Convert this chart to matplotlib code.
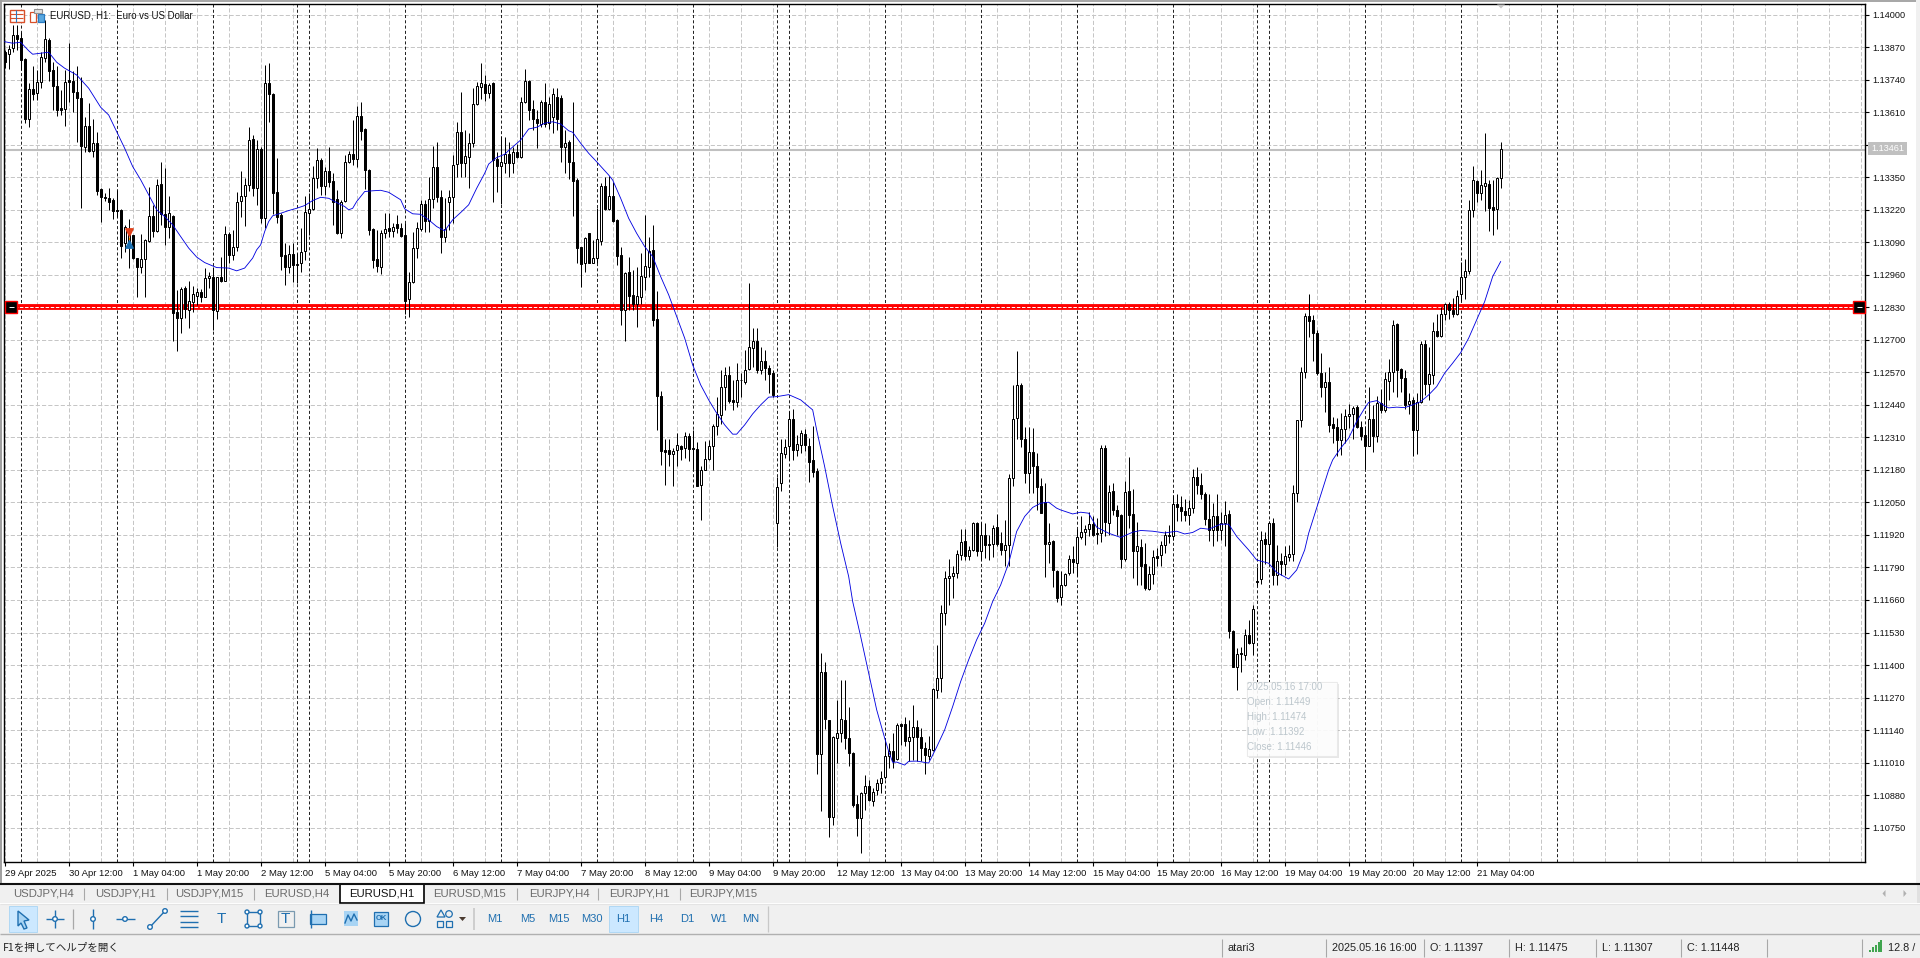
import numpy as np
import matplotlib
matplotlib.use('Agg')
import matplotlib.pyplot as plt
from matplotlib.patches import Rectangle, Circle, Polygon

plt.rcParams['font.family'] = ['Liberation Sans', 'DejaVu Sans']
plt.rcParams['lines.scale_dashes'] = False

# candles, in points (0.00001) above 1.13000
opens = [
850,843,868,919,906,822,585,702,686,729,826,899,779,715,626,622,739,735,691,667,473,555,457,486,304,
270,266,260,220,220,87,89,120,27,-7,23,97,196,137,324,202,150,196,-188,-213,-91,-180,-147,-124,-109,
-127,-53,-47,-183,-47,-63,123,40,73,257,277,320,503,306,463,186,726,682,290,200,40,-7,42,0,6,
57,209,224,346,419,316,375,335,262,129,257,410,443,422,595,543,379,144,22,-7,126,147,137,162,147,
120,-137,-67,66,144,242,176,262,390,270,113,253,270,403,533,406,433,489,642,712,723,686,726,422,397,
406,442,406,452,433,652,735,622,582,563,652,566,592,670,666,472,492,410,339,70,9,126,9,26,97,
315,223,275,179,39,-180,-30,-120,-158,-127,-47,-7,59,-216,-524,-741,-740,-757,-742,-725,-732,-684,-732,-737,-882,
-820,-777,-724,-644,-600,-487,-440,-540,-547,-462,-467,-417,-331,-304,-420,-384,-412,-433,-1034,-873,-756,-726,-617,-742,-720,
-677,-724,-780,-824,-1956,-1628,-1819,-2209,-1892,-1870,-1819,-1892,-1952,-2156,-2212,-2112,-2083,-2143,-2101,-2072,-2048,-1965,-1942,-1976,-1836,
-1836,-1902,-1888,-1846,-1886,-1932,-1962,-1939,-1699,-1652,-1393,-1253,-1246,-1233,-1160,-1104,-1164,-1142,-1032,-1146,-1080,-1116,-1116,-1049,-1113,
-1140,-1122,-853,-613,-480,-696,-831,-749,-804,-884,-949,-1117,-1106,-1224,-1329,-1279,-1233,-1176,-1193,-1089,-1070,-1057,-1037,-1073,-1073,
-733,-1033,-904,-980,-1000,-1176,-904,-996,-1146,-1129,-1197,-1296,-1237,-1166,-1162,-1120,-1080,-1086,-957,-969,-984,-1002,-973,-849,-881,
-916,-1017,-1060,-1006,-1062,-1033,-997,-1463,-1606,-1550,-1559,-1479,-1513,-1264,-1257,-1097,-1117,-1033,-1242,-1184,-1196,-1169,-1157,-911,-620,
-427,-204,-220,-274,-433,-489,-469,-636,-649,-702,-657,-606,-596,-569,-649,-680,-726,-617,-686,-553,-582,-463,-429,-236,-417,
-453,-556,-540,-662,-549,-316,-476,-440,-265,-284,-198,-158,-180,-196,-118,-50,-23,219,335,289,317,323,230,223,346]

closes = [
809,862,919,902,819,583,702,683,730,830,902,773,713,619,619,730,731,689,667,475,555,457,486,297,270,
268,253,217,217,77,150,140,27,-7,23,100,197,137,320,202,153,206,-191,-213,-97,-176,-144,-117,-109,-127,
-53,-45,-180,-49,-63,123,40,73,253,277,320,500,309,463,186,726,682,289,193,37,-7,42,0,4,53,
210,224,346,419,316,375,333,253,129,253,410,442,423,595,537,379,140,20,-4,126,142,137,153,147,117,
-143,-67,66,146,242,176,262,390,273,113,142,270,399,530,406,435,486,642,715,726,686,719,419,397,410,
442,406,452,433,652,735,619,582,566,652,563,643,682,582,470,486,410,335,66,2,106,9,26,102,315,
223,275,175,35,-180,-34,-123,-156,-124,-44,-4,57,-220,-523,-746,-748,-757,-745,-721,-735,-686,-737,-735,-884,-820,
-777,-724,-644,-596,-489,-440,-544,-547,-460,-460,-420,-327,-304,-420,-384,-413,-436,-520,-890,-753,-727,-617,-742,-716,-674,
-720,-787,-827,-1956,-1628,-1816,-2209,-1888,-1870,-1816,-1890,-1952,-2161,-2212,-2112,-2085,-2141,-2109,-2072,-2052,-1963,-1942,-1985,-1839,-1842,
-1902,-1888,-1846,-1888,-1932,-1959,-1936,-1696,-1652,-1393,-1253,-1244,-1233,-1157,-1109,-1164,-1142,-1033,-1146,-1080,-1122,-1122,-1053,-1116,-1140,
-1120,-853,-617,-480,-696,-833,-749,-804,-887,-993,-1117,-1109,-1222,-1333,-1282,-1237,-1176,-1190,-1089,-1069,-1057,-1037,-1080,-1078,-733,
-1030,-907,-980,-1004,-1176,-909,-1000,-1146,-1124,-1204,-1293,-1237,-1170,-1172,-1122,-1082,-1086,-957,-970,-984,-1002,-973,-849,-881,-917,
-1016,-1060,-1006,-1062,-1033,-1001,-1462,-1606,-1557,-1557,-1479,-1513,-1377,-1270,-1100,-1117,-1033,-1242,-1184,-1196,-1164,-1156,-913,-620,-430,
-204,-223,-274,-433,-487,-469,-642,-653,-702,-657,-606,-596,-573,-650,-684,-726,-617,-686,-553,-582,-457,-427,-240,-420,-453,
-560,-544,-660,-547,-316,-476,-437,-265,-284,-198,-158,-180,-196,-123,-50,-23,219,339,289,318,326,229,219,346,462]

highs = [
859,879,959,959,932,826,726,795,779,852,979,906,812,795,699,779,888,773,795,750,590,646,582,533,306,
289,306,266,300,222,160,182,120,27,123,103,313,240,342,410,389,276,198,-100,-87,-84,-64,-83,-93,-97,
-13,-27,-7,-47,31,156,133,140,290,377,346,550,519,500,470,799,806,685,426,206,86,80,86,46,146,
276,286,395,466,426,393,470,366,300,260,439,457,579,633,649,546,382,147,140,140,206,206,166,200,166,
166,-27,133,170,259,259,353,475,493,300,266,300,439,573,692,539,526,706,732,808,759,726,732,453,515,
513,493,472,483,671,782,738,659,620,660,726,672,706,706,680,539,499,652,346,73,113,129,99,226,326,
353,355,333,182,70,-27,33,-20,-7,46,199,113,159,-104,-503,-697,-697,-733,-673,-720,-670,-673,-660,-710,-806,
-706,-702,-636,-529,-420,-409,-404,-460,-391,-431,-340,-74,-254,-254,-327,-340,-400,-420,-847,-697,-695,-586,-577,-680,-660,
-657,-693,-644,-813,-1550,-1586,-1819,-1885,-1739,-1659,-1659,-1768,-1949,-2119,-2109,-2039,-2059,-2092,-2056,-2025,-1892,-1912,-1872,-1832,-1832,
-1808,-1819,-1759,-1819,-1852,-1906,-1883,-1692,-1519,-1359,-1224,-1176,-1204,-1142,-1056,-1056,-1126,-1030,-1030,-1030,-1033,-1080,-1040,-996,-1070,
-1020,-837,-480,-344,-474,-649,-649,-653,-753,-853,-873,-1033,-1100,-1222,-1226,-1233,-1160,-1124,-1057,-1006,-1040,-990,-1006,-1013,-720,
-720,-880,-873,-960,-996,-864,-767,-896,-1030,-1097,-1113,-1206,-1140,-1133,-1106,-1066,-1040,-920,-917,-926,-937,-940,-817,-809,-833,
-910,-917,-953,-916,-990,-946,-980,-1461,-1533,-1529,-1457,-1419,-1360,-1209,-1064,-1070,-1026,-1013,-1120,-1153,-1126,-1120,-880,-620,-410,
-194,-116,-200,-260,-353,-427,-407,-609,-613,-593,-577,-556,-564,-560,-626,-646,-487,-560,-524,-497,-427,-377,-220,-234,-413,
-420,-513,-527,-511,-303,-300,-327,-227,-198,-170,-151,-147,-134,-100,13,22,259,395,339,379,526,339,339,350,492]

lows = [
786,783,852,859,779,566,550,659,657,706,812,733,619,595,599,555,649,609,493,229,453,453,430,280,170,
257,220,184,190,27,53,-11,23,-127,-31,-129,93,113,133,160,80,107,-306,-346,-273,-213,-253,-190,-160,-147,
-129,-93,-262,-216,-67,-64,7,20,57,193,157,296,276,240,166,146,573,202,166,-20,-80,-33,-67,-71,-27,
20,120,220,306,280,280,313,160,125,106,253,406,399,393,499,302,120,-14,-27,-36,106,113,113,126,113,
-196,-207,-73,26,137,133,133,229,253,49,93,140,166,350,353,353,306,470,639,662,656,666,253,293,244,
366,353,366,426,426,646,579,539,468,552,552,545,526,539,412,366,342,195,6,-87,-27,6,6,9,79,
219,219,173,0,-240,-303,-180,-180,-250,-158,-100,-47,-244,-662,-802,-882,-806,-886,-806,-782,-773,-784,-817,-886,-1019,
-822,-780,-822,-682,-636,-580,-553,-580,-567,-527,-476,-420,-407,-433,-437,-460,-513,-527,-1127,-906,-773,-780,-782,-766,-753,
-743,-867,-847,-2036,-2185,-1856,-2289,-2239,-1992,-1906,-1936,-2005,-2169,-2285,-2352,-2179,-2145,-2165,-2119,-2112,-2056,-2012,-2012,-1979,-1919,
-1923,-1985,-1979,-1985,-1985,-2036,-1979,-1945,-1732,-1706,-1439,-1359,-1333,-1253,-1180,-1180,-1182,-1145,-1166,-1182,-1173,-1180,-1169,-1124,-1160,
-1204,-1206,-883,-696,-729,-871,-911,-913,-980,-993,-1250,-1193,-1289,-1350,-1362,-1286,-1240,-1233,-1246,-1097,-1120,-1086,-1086,-1116,-1110,
-1086,-1082,-1000,-1080,-1213,-1186,-1053,-1253,-1279,-1279,-1302,-1300,-1277,-1206,-1206,-1153,-1113,-1100,-1026,-1026,-1026,-1042,-993,-916,-937,
-1040,-1106,-1126,-1106,-1100,-1126,-1490,-1607,-1699,-1626,-1579,-1517,-1559,-1286,-1277,-1197,-1193,-1280,-1282,-1240,-1242,-1186,-1186,-950,-649,
-453,-289,-383,-440,-530,-587,-670,-713,-766,-760,-713,-653,-697,-653,-702,-817,-726,-749,-710,-593,-587,-540,-507,-530,-507,
-577,-596,-766,-756,-553,-520,-540,-477,-290,-290,-220,-216,-207,-200,-144,-136,-36,190,253,259,217,135,119,143,306]

# blue moving average, read at these bars
ma_bars = [0,2,4,6,7,9,11,13,15,18,21,24,26,28,30,32,34,36,38,40,42,44,46,48,50,53,56,58,60,62,63,64,65,66,67,69,71,73,75,77,79,81,83,85,86,87,88,90,92,94,96,98,99,100,102,104,106,108,110,112,114,116,118,120,121,123,125,126,129,131,133,135,137,139,141,142,144,146,148,151,152,154,156,158,160,162,164,166,168,170,172,174,176,178,180,182,183,185,187,189,191,193,196,199,202,203,205,207,209,211,212,214,216,218,220,221,222,223,225,226,228,231,233,235,237,239,241,243,245,247,249,251,253,255,257,259,261,263,264,267,269,271,273,276,279,282,284,287,290,293,295,297,299,301,304,306,308,311,313,316,318,321,323,325,326,331,332,334,336,338,340,341,343,345,346,348,350,352,354,356,358,360,362,364,366,368,370,372,374]
ma_vals = [892,886,890,856,842,846,850,810,786,759,706,630,599,533,466,393,340,280,220,193,160,113,67,31,9,-11,-13,-24,-13,27,60,80,133,173,196,206,217,226,237,257,270,266,249,233,220,226,253,293,296,298,290,270,260,224,204,202,180,153,136,180,209,240,306,366,403,429,442,457,499,543,550,566,572,563,536,530,486,446,412,359,339,266,186,126,73,33,-47,-120,-207,-293,-400,-480,-540,-593,-640,-677,-677,-640,-596,-560,-529,-527,-519,-540,-580,-660,-807,-966,-1113,-1246,-1346,-1486,-1632,-1779,-1892,-1945,-1989,-1988,-2000,-1985,-1984,-1992,-1928,-1859,-1766,-1666,-1579,-1499,-1433,-1346,-1280,-1193,-1066,-1006,-970,-953,-949,-973,-980,-996,-989,-993,-1049,-1073,-1090,-1069,-1062,-1065,-1072,-1065,-1076,-1070,-1053,-1057,-1037,-1037,-1086,-1140,-1180,-1193,-1230,-1256,-1220,-1140,-1073,-820,-780,-733,-693,-626,-573,-550,-543,-564,-572,-569,-571,-560,-547,-520,-487,-433,-393,-351,-293,-220,-147,-47,13]

sep_bars = [4,28,52,73,76,100,124,148,172,193,196,220,244,268,292,313,316,340,364,388]
grid_bars = list(range(0, 466, 8))
price_levels = [1.14000 - 0.0013 * k for k in range(26)]
label_bars = list(range(0, 369, 16))
x_labels = ['29 Apr 2025','30 Apr 12:00','1 May 04:00','1 May 20:00','2 May 12:00','5 May 04:00','5 May 20:00','6 May 12:00',
            '7 May 04:00','7 May 20:00','8 May 12:00','9 May 04:00','9 May 20:00','12 May 12:00','13 May 04:00','13 May 20:00',
            '14 May 12:00','15 May 04:00','15 May 20:00','16 May 12:00','19 May 04:00','19 May 20:00','20 May 12:00','21 May 04:00']
red_level = 1.12830
bid_level = 1.13461
trade_bar = 31
sell_price = 1.13132
buy_price = 1.13084

tab_names = ['USDJPY,H4','USDJPY,H1','USDJPY,M15','EURUSD,H4','EURUSD,H1','EURUSD,M15','EURJPY,H4','EURJPY,H1','EURJPY,M15']
timeframes = ['M1','M5','M15','M30','H1','H4','D1','W1','MN']
tooltip_lines = ['2025.05.16 17:00','Open: 1.11449','High: 1.11474','Low: 1.11392','Close: 1.11446']
status_texts = ['atari3','2025.05.16 16:00','O: 1.11397','H: 1.11475','L: 1.11307','C: 1.11448','12.8 /']

W, H = 1920, 958
fig = plt.figure(figsize=(W / 100, H / 100), dpi=100, facecolor='white')

# price chart
left, right, top, bottom = 4, 1865, 4, 862
ax = fig.add_axes([left / W, 1 - bottom / H, (right - left) / W, (bottom - top) / H])
o = 1.13 + np.array(opens) / 1e5
c = 1.13 + np.array(closes) / 1e5
hi = 1.13 + np.array(highs) / 1e5
lo = 1.13 + np.array(lows) / 1e5
x = np.arange(len(o))
ma = 1.13 + np.array(ma_vals) / 1e5

for g in grid_bars:
	ax.axvline(g, color='#c6c6c6', lw=0.72, ls=(0, (3, 1.5)), zorder=1)
for p in price_levels:
	ax.axhline(p, color='#c6c6c6', lw=0.72, ls=(0, (3, 1.5)), zorder=1)
for s in sep_bars:
	ax.axvline(s, color='black', lw=0.62, ls=(0, (2.2, 1.6)), zorder=1.5)

ax.axhline(bid_level, color='#c0c0c0', lw=1.5, zorder=2)
ax.axhline(red_level, color='#ff0000', lw=4.2, zorder=2)
ax.axhline(red_level, color='white', lw=0.7, ls=(0, (2.5, 1.2)), zorder=2.1)

ax.vlines(x, lo, hi, color='black', lw=0.72, zorder=3)
up = c >= o
ax.bar(x[up], (c - o)[up], bottom=o[up], width=0.56, facecolor='white', edgecolor='black', lw=0.72, zorder=4)
ax.bar(x[~up], (o - c)[~up], bottom=c[~up], width=0.56, facecolor='black', edgecolor='black', lw=0.72, zorder=4)
ax.plot(ma_bars, ma, color='#0000e0', lw=0.62, zorder=5)

ax.plot([trade_bar, trade_bar], [sell_price, buy_price], color='#e08000', lw=0.8, ls=(0, (2, 1.5)), zorder=6)
ax.scatter([trade_bar], [sell_price], marker='v', s=28, color='#e0401a', zorder=7)
ax.scatter([trade_bar], [buy_price], marker='^', s=28, color='#1a6fb0', zorder=7)

ax.set_xlim((left - 4.67) / 4, (right - 4.67) / 4)
ax.set_ylim(1.14 - (bottom - 14.7) * 3.998e-5, 1.14 - (top - 14.7) * 3.998e-5)
ax.yaxis.tick_right()
ax.set_yticks(price_levels)
ax.set_yticklabels(['%.5f' % p for p in price_levels], fontsize=6.6, color='#111111')
ax.set_xticks(label_bars)
ax.set_xticklabels(x_labels, fontsize=6.8, ha='left', color='#111111')
ax.tick_params(axis='both', length=3, width=0.8, color='black', pad=2)
for sp in ax.spines.values():
	sp.set_linewidth(1.0)
	sp.set_color('black')

# window chrome, in pixel coordinates
ch = fig.add_axes([0, 0, 1, 1], zorder=10)
ch.set_xlim(0, W)
ch.set_ylim(H, 0)
ch.axis('off')

def box(x0, y0, w, h, fc, ec='none', lw=0, alpha=None, z=1):
	ch.add_patch(Rectangle((x0, y0), w, h, facecolor=fc, edgecolor=ec, lw=lw, alpha=alpha, zorder=z))

def line(xs, ys, col='#1f6fb0', lw=1.0, z=3):
	ch.plot(xs, ys, color=col, lw=lw, zorder=z, solid_capstyle='butt')

box(0, 0, W, 1.5, '#a8a8a8')
box(0, 0, 2, 884, '#a0a0a0')
box(1916, 0, 4, 884, '#f0f0f0')

# title and icons
ch.text(50, 15.5, 'EURUSD, H1:  Euro vs US Dollar', fontsize=6.9, va='center', color='#111111', zorder=4)
box(9.5, 10, 14, 12, 'white', '#d8502a', 1.0, z=4)
line([10, 23], [14, 14], '#d8502a', 0.8, 5)
line([10, 23], [18, 18], '#d8502a', 0.8, 5)
line([15.5, 15.5], [10, 22], '#2a7ac0', 0.8, 5)
box(30, 12, 6, 10, 'white', '#d8502a', 0.9, z=4)
box(38, 14, 6, 8, '#5aa8e0', '#2a7ac0', 0.9, z=4)
box(34, 9, 8, 4, '#e0e0e0', '#909090', 0.8, z=4)

# red line anchors
for ax0 in (5, 1853):
	box(ax0, 301, 12, 12, 'black', '#ff0000', 1.0, z=4)
	line([ax0 + 3.5, ax0 + 8.5], [307, 307], 'white', 0.7, 5)

# bid label
box(1868, 142, 39, 13, '#c0c0c0', z=4)
ch.text(1871, 148.8, '1.13461', fontsize=6.6, va='center', color='white', zorder=5)
ch.add_patch(Polygon([[1497, 4.5], [1505, 4.5], [1501, 8.5]], facecolor='#c8c8c8', edgecolor='none', zorder=4))

# faded tooltip
box(1249, 684, 90, 74, '#b0b0b0', alpha=0.3, z=4)
box(1247, 682, 90, 74, '#ffffff', '#e8e8e8', 0.8, alpha=0.88, z=4.2)
for k, t in enumerate(tooltip_lines):
	ch.text(1247, 687 + k * 15, t, fontsize=7.0, va='center', color='#bcc6cc', zorder=5)

# tab row
box(0, 884, W, 19, '#f0f0f0')
line([0, W], [884, 884], '#111111', 1.5)
box(1917, 885, 3, 18, '#e0e0e0')
line([0, W], [903.5, 903.5], '#e4e4e4', 0.8)
box(340, 884, 84, 18.5, 'white', 'black', 1.2, z=2)
tab_x = [43, 125, 209, 297, 382, 470, 559, 639, 723]
for t, tx in zip(tab_names, tab_x):
	ch.text(tx, 894, t, fontsize=8.2, ha='center', va='center', zorder=4,
		color='#111111' if t == 'EURUSD,H1' else '#6b6b6b')
for sx in (84, 167, 254, 517, 598, 680):
	line([sx, sx], [888, 900], '#a8a8a8', 0.8)
for ax0, d in ((1884, -1), (1905, 1)):
	ch.add_patch(Polygon([[ax0 - d * 1.5, 890], [ax0 - d * 1.5, 897], [ax0 + d * 1.5, 893.5]], facecolor='#b0b0b0', edgecolor='none', zorder=4))

# toolbar
box(0, 904, W, 30, '#f0f0f0')
line([0, W], [933.5, 933.5], '#b0b0b0', 1.0)
box(9, 906, 28, 26, '#cce8ff', '#b0d8f4', 0.7, z=2)
box(609, 906, 29, 26, '#cce8ff', '#b0d8f4', 0.7, z=2)
box(344, 911, 14, 15, '#a8d4f4', z=2)
box(374, 912, 14, 14, '#a8d4f4', '#1f6fb0', 0.9, z=2)
yc = 919
ch.add_patch(Polygon([[18, 911], [29, 920], [24, 921], [27, 928], [24, 929], [21, 923], [18, 926]], facecolor='#a8d4f4', edgecolor='#1f6fb0', lw=1, zorder=3))
line([55, 55], [yc - 9, yc + 9])
line([46, 64], [yc, yc])
ch.add_patch(Circle((55, yc), 2.3, facecolor='white', edgecolor='#1f6fb0', lw=1, zorder=4))
line([73, 73], [909, 929], '#a8a8a8', 0.9)
line([93, 93], [yc - 10, yc + 10])
ch.add_patch(Circle((93, yc), 2.3, facecolor='white', edgecolor='#1f6fb0', lw=1, zorder=4))
line([116, 135], [yc, yc])
ch.add_patch(Circle((125, yc), 2.3, facecolor='white', edgecolor='#1f6fb0', lw=1, zorder=4))
line([150, 165], [927, 911])
ch.add_patch(Circle((150, 927), 2.3, facecolor='white', edgecolor='#1f6fb0', lw=1, zorder=4))
ch.add_patch(Circle((165, 911), 2.3, facecolor='white', edgecolor='#1f6fb0', lw=1, zorder=4))
for yy in (911, 916, 922, 927):
	line([180, 198], [yy, yy])
ch.text(221, 919, 'T', fontsize=11, ha='center', va='center', color='#1f6fb0', zorder=4)
box(247, 912, 13, 14, 'none', '#1f6fb0', 1.0, z=3)
for cx, cy in ((247, 912), (260, 912), (247, 926), (260, 926)):
	ch.add_patch(Circle((cx, cy), 2, facecolor='white', edgecolor='#1f6fb0', lw=1, zorder=4))
box(278, 911, 16, 16, 'none', '#7a9ab0', 0.9, z=3)
ch.text(285.5, 919, 'T', fontsize=11, ha='center', va='center', color='#1f6fb0', zorder=4)
box(310, 914, 16, 10, '#a8d4f4', '#1f6fb0', 0.9, z=3)
line([311, 311], [910, 928])
ch.plot([345, 348, 351, 354, 357], [923, 915, 921, 914, 920], color='#1f6fb0', lw=1, zorder=4)
ch.text(381, 919, 'OK', fontsize=5.5, weight='bold', ha='center', va='center', color='#1f6fb0', zorder=4)
ch.add_patch(Circle((413, 919), 7.5, facecolor='none', edgecolor='#1f6fb0', lw=1, zorder=4))
ch.add_patch(Polygon([[437, 917], [445, 917], [441, 910]], facecolor='none', edgecolor='#1f6fb0', lw=0.9, zorder=4))
ch.add_patch(Circle((449, 914), 3.3, facecolor='none', edgecolor='#1f6fb0', lw=0.9, zorder=4))
box(437, 921, 6, 6, 'none', '#1f6fb0', 0.9, z=4)
box(446, 921, 6, 6, 'none', '#1f6fb0', 0.9, z=4)
ch.add_patch(Polygon([[459, 917], [466, 917], [462.5, 921]], facecolor='#4a3a30', edgecolor='none', zorder=4))
line([474, 474], [908, 930], '#c8c8c8', 1.2)
for t, tx in zip(timeframes, (495, 527.5, 559, 592, 623, 656, 687, 719, 751)):
	ch.text(tx, 919, t, fontsize=8.0, ha='center', va='center', color='#1f6fb0', zorder=4)
line([768, 768], [906, 932], '#c8c8c8', 0.9)

# status bar
box(0, 934, W, 24, '#f0f0f0')
ch.text(3, 948, 'F1を押してヘルプを開く', fontsize=7.6, va='center', color='#222222', zorder=4,
	family=['Noto Sans CJK JP', 'DejaVu Sans'])
for sx in (1222, 1326, 1424, 1509, 1595.5, 1681, 1767, 1862):
	line([sx, sx], [939, 957], '#a8a8a8', 0.8)
for t, tx in zip(status_texts, (1228, 1332, 1430, 1515, 1602, 1687, 1888)):
	ch.text(tx, 948, t, fontsize=7.8, va='center', color='#222222', zorder=4)
for k, bx in enumerate((1869.5, 1872.5, 1875.5, 1878.5, 1881)):
	line([bx, bx], [952, 949.5 - k * 2.4], '#2e9e3e', 1.3)

fig.savefig('out.png', dpi=100, facecolor='white')
